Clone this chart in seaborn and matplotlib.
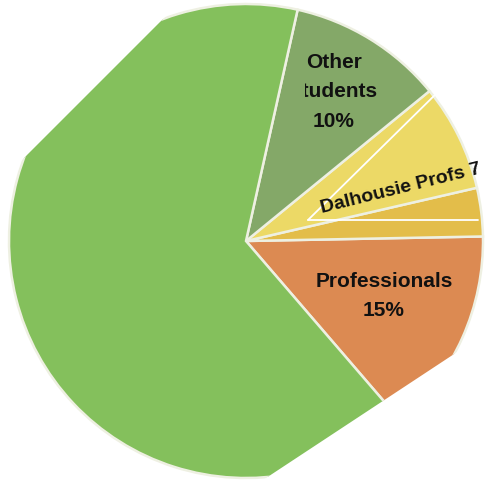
import matplotlib.pyplot as plt
import seaborn as sns
from matplotlib.patches import Polygon, Rectangle

# slice shares (counter-clockwise from Professionals)
groups = ["Professionals", "Other profs", "Dalhousie Profs", "Other students", "Dalhousie students"]
shares = [14.0, 3.3, 7.3, 10.6, 64.8]
colors = ["#dc8a52", "#e3bd4a", "#ecd966", "#84a868", "#84c05c"]

other_lines = ["Other", "students", "10%"]
prof_lines = ["Professionals", "15%"]
dal_label = "Dalhousie Profs 7%"

sns.set_theme(style="white")
plt.rcParams["font.family"] = ["Liberation Sans", "DejaVu Sans"]

W, H = 486, 480
fig = plt.figure(figsize=(W / 100, H / 100), dpi=100)
ax = fig.add_axes([0, 0, 1, 1])


def py(y):
    # picture rows run downward
    return H - y


wedges, _ = ax.pie(shares, colors=colors, center=(246, py(241)), radius=237,
                   startangle=-49.3, counterclock=True,
                   wedgeprops=dict(edgecolor="#eef0e2", linewidth=1.8))
# pie resets the limits, so set them afterwards
ax.set_xlim(0, W)
ax.set_ylim(0, H)
ax.set_aspect("equal")
ax.axis("off")

# the picture is cut off at two corners
keep = Polygon([(0, py(182)), (182, py(0)), (W, py(0)), (W, py(333)),
                (263, py(480)), (0, py(480))], closed=True,
               transform=ax.transData, facecolor="none", edgecolor="none")
ax.add_patch(keep)
for w in wedges:
    w.set_clip_on(True)
    w.set_clip_path(keep)

# labels
box = Rectangle((305, 0), W, H, transform=ax.transData, facecolor="none", edgecolor="none")
ax.add_patch(box)
for txt, yb in zip(other_lines, [68, 97, 127]):
    t = ax.text(334, py(yb), txt, ha="center", va="baseline", fontsize=15,
                fontweight="bold", color="#111111", clip_on=True)
    t.set_clip_path(box)

for txt, yb in zip(prof_lines, [287, 316]):
    ax.text(384, py(yb), txt, ha="center", va="baseline", fontsize=15,
            fontweight="bold", color="#111111")

right_box = Rectangle((0, 0), 478, H, transform=ax.transData, facecolor="none", edgecolor="none")
ax.add_patch(right_box)
t = ax.text(322, py(213), dal_label, ha="left", va="baseline", rotation=14,
            rotation_mode="anchor", fontsize=14, fontweight="bold",
            color="#111111", clip_on=True)
t.set_clip_path(right_box)

# thin white guide lines across the yellow slices
ax.plot([308, 478], [py(220), py(220)], color="white", lw=1.3)
ax.plot([308, 443], [py(220), py(87)], color="white", lw=1.3)

fig.savefig("out.png", dpi=100)
